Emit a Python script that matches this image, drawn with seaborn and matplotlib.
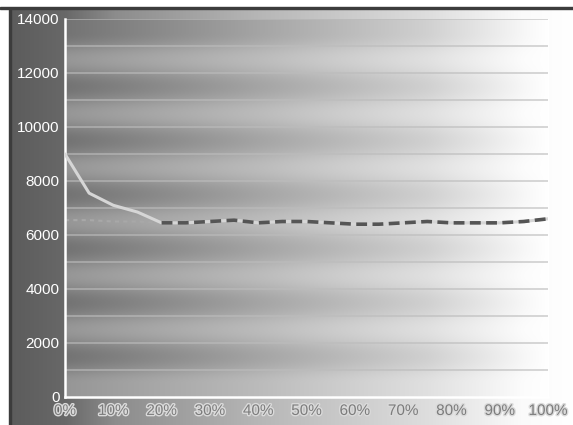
import numpy as np
import pandas as pd
import matplotlib
matplotlib.use("Agg")
import matplotlib.pyplot as plt
import matplotlib.patheffects as pe
import seaborn as sns

# values
pct = [0, 5, 10, 15, 20, 25, 30, 35, 40, 45, 50, 55, 60, 65, 70, 75, 80, 85, 90, 95, 100]
series_a = [9000, 7550, 7100, 6850, 6450, 6450, 6500, 6550, 6450, 6500, 6500,
            6450, 6400, 6400, 6450, 6500, 6450, 6450, 6450, 6500, 6600]
series_b = [6550, 6550, 6500, 6500, 6450, 6450, 6500, 6550, 6450, 6500, 6500,
            6450, 6400, 6400, 6450, 6500, 6450, 6450, 6450, 6500, 6600]
y_ticks = [0, 2000, 4000, 6000, 8000, 10000, 12000, 14000]
x_ticks = [0, 10, 20, 30, 40, 50, 60, 70, 80, 90, 100]

sns.set_style("white")
plt.rcParams["font.family"] = ["Liberation Sans", "DejaVu Sans"]

df = pd.DataFrame({"pct": pct, "a": series_a, "b": series_b})

fig = plt.figure(figsize=(5.73, 4.25), dpi=100)
fig.patch.set_facecolor("white")

# grey gradient behind everything, dark on the left, white on the right
bg = fig.add_axes([0, 0, 1, 1], zorder=-2)
cols = np.linspace(0, 1, 573)
shade = np.interp(cols, [0, 0.02, 0.113, 0.2, 0.45, 0.75, 0.91, 1.0],
                  [92, 92, 104, 140, 182, 222, 250, 255]) / 255
grad = np.tile(shade, (425, 1))
bg.imshow(np.dstack([grad] * 3), aspect="auto", extent=(0, 1, 0, 1))
bg.set_xlim(0, 1)
bg.set_ylim(0, 1)
bg.axis("off")
# frame lines at left and top
bg.axvspan(0, 0.015, color="white")
bg.axvspan(0.015, 0.019, color="#3c3c3c")
bg.axhspan(0.983, 1.0, color="white")
bg.axhspan(0.979, 0.983, color="#3c3c3c")

ax = fig.add_axes([0.1134, 0.0659, 0.8430, 0.8894])
ax.set_facecolor("none")

# plot area: lighter gradient with darker bands every other 1000, fading to the right
xs = np.linspace(0, 1, 300)
base = np.interp(xs, [0, 0.4, 0.75, 0.95, 1.0], [150, 187, 224, 252, 255]) / 255
dark = np.interp(xs, [0, 0.4, 0.75, 0.95, 1.0], [0.23, 0.12, 0.07, 0.02, 0.0])
band = (np.arange(14) % 2 == 1).astype(float)
img = base[None, :] * (1 - np.outer(band, dark))
ax.imshow(np.dstack([img] * 3), aspect="auto", extent=(0, 100, 0, 14000),
          origin="lower", zorder=0)

for v in range(1000, 14001, 1000):
    ax.axhline(v, color="#bcbcbc", lw=1.2, alpha=0.7, zorder=1)

sns.lineplot(data=df, x="pct", y="a", ax=ax, color="#d6d6d6", lw=2.2, zorder=3)
early = df[df["pct"] <= 20]
late = df[df["pct"] >= 20]
sns.lineplot(data=early, x="pct", y="b", ax=ax, color="#a8a8a8", lw=1.5,
             linestyle=(0, (2, 2)), zorder=2)
sns.lineplot(data=late, x="pct", y="b", ax=ax, color="#555555", lw=2.6,
             linestyle=(0, (3, 1.5)), zorder=4)

ax.set_xlim(0, 100)
ax.set_ylim(0, 14000)
ax.set_xticks(x_ticks)
ax.set_xticklabels([f"{t}%" for t in x_ticks])
ax.set_yticks(y_ticks)
ax.set_yticklabels([str(t) for t in y_ticks])
ax.set_xlabel("")
ax.set_ylabel("")
ax.tick_params(axis="y", colors="white", labelsize=11, length=3, width=1, pad=1)
ax.tick_params(axis="x", colors="white", labelcolor="#7c7c7c", labelsize=11, length=0, pad=5)
for lab in ax.get_xticklabels():
    lab.set_path_effects([pe.withStroke(linewidth=2, foreground="#dadada")])
for s in ["top", "right"]:
    ax.spines[s].set_visible(False)
for s in ["left", "bottom"]:
    ax.spines[s].set_color("white")
    ax.spines[s].set_linewidth(1.8)

fig.savefig("out.png", dpi=100)
